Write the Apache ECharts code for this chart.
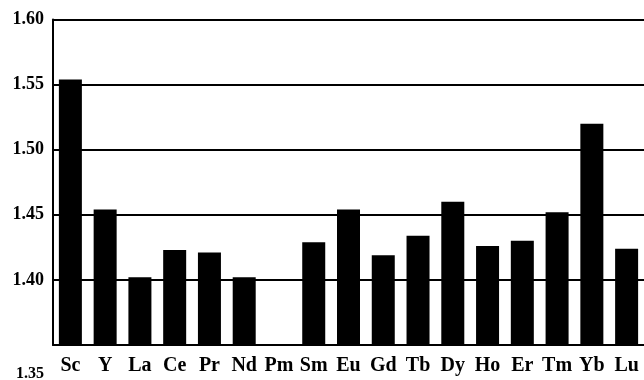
<!DOCTYPE html>
<html>
<head>
<meta charset="utf-8">
<script src="https://cdn.jsdelivr.net/npm/echarts@6/dist/echarts.min.js"></script>
<style>
  html, body { margin: 0; padding: 0; background: #fff; }
  #chart { width: 644px; height: 380px; }
</style>
</head>
<body>
<div id="chart"></div>
<script>
// Rare-earth elements (plus Sc and Y) along the x axis
const elements = ['Sc', 'Y', 'La', 'Ce', 'Pr', 'Nd', 'Pm', 'Sm', 'Eu', 'Gd', 'Tb', 'Dy', 'Ho', 'Er', 'Tm', 'Yb', 'Lu'];
// Measured value per element; Pm has no measurement
const values = [1.554, 1.454, 1.402, 1.423, 1.421, 1.402, null, 1.429, 1.454, 1.419, 1.434, 1.460, 1.426, 1.430, 1.452, 1.520, 1.424];
// Value-axis range and step
const yMin = 1.35;
const yMax = 1.60;
const yStep = 0.05;

const serif = '"Liberation Serif", "Times New Roman", serif';

const chart = echarts.init(document.getElementById('chart'), null, { renderer: 'canvas' });
chart.setOption({
  animation: false,
  backgroundColor: '#fff',
  grid: {
    left: 53, right: 0, top: 19.5, bottom: 35,
    containLabel: false, outerBoundsMode: 'none'
  },
  xAxis: {
    type: 'category',
    data: elements,
    axisLine: { show: true, lineStyle: { color: '#000', width: 2 } },
    axisTick: { show: false },
    axisLabel: {
      interval: 0, hideOverlap: false,
      color: '#000', fontFamily: serif, fontWeight: 'bold', fontSize: 20, margin: 11
    }
  },
  yAxis: {
    type: 'value',
    min: yMin, max: yMax, interval: yStep,
    axisLine: { show: true, lineStyle: { color: '#000', width: 2 } },
    axisTick: { show: false },
    splitLine: { show: true, lineStyle: { color: '#000', width: 2 } },
    axisLabel: {
      color: '#000', fontFamily: serif, fontWeight: 'bold', fontSize: 18, margin: 9,
      formatter: function (v) {
        const s = v.toFixed(2);
        return Math.abs(v - yMin) < 1e-9 ? '{low|' + s + '}' : s;
      },
      rich: {
        low: { color: '#000', fontFamily: serif, fontWeight: 'bold', fontSize: 16, padding: [58, 0, 0, 0] }
      }
    }
  },
  series: [{
    type: 'bar',
    data: values.map(v => (v === null ? '-' : v)),
    barWidth: 23,
    itemStyle: { color: '#000' }
  }]
});
</script>
</body>
</html>
